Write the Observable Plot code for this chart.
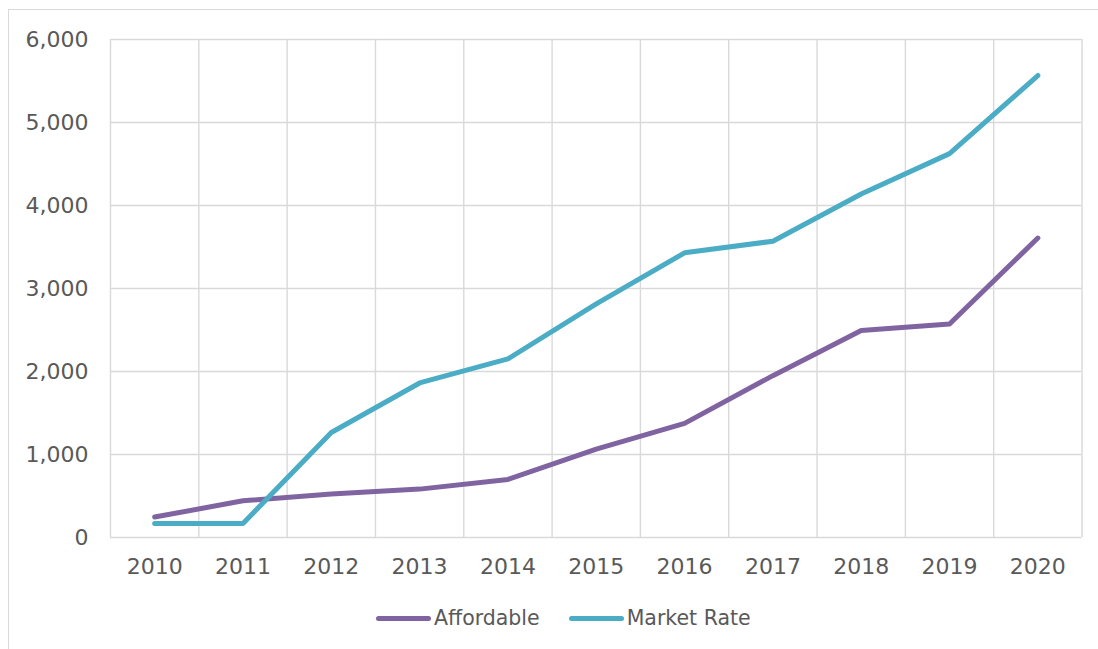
<!DOCTYPE html>
<html>
<head>
<meta charset="utf-8">
<script src="https://cdn.jsdelivr.net/npm/d3@7"></script>
<script src="https://cdn.jsdelivr.net/npm/@observablehq/plot@0.6"></script>
<style>
  html, body { margin: 0; padding: 0; background: #fff; overflow: hidden; }
  body { width: 1098px; height: 649px; position: relative; font-family: "DejaVu Sans", sans-serif; }
  #frame { position: absolute; left: 8px; top: 9px; width: 1200px; height: 1000px; border: 1.5px solid #d9d9d9; box-sizing: border-box; }
  #chart { position: absolute; left: 0; top: 0; }
  #legend { position: absolute; left: 376px; top: 606px; display: flex; align-items: center; font-size: 20.5px; color: #595959; }
  .item { display: flex; align-items: center; margin-right: 29px; }
  .sw { width: 55px; height: 5px; border-radius: 3px; margin-right: 3px; }
</style>
</head>
<body>
<div id="frame"></div>
<div id="chart"></div>
<div id="legend"></div>
<script>
const years = [2010, 2011, 2012, 2013, 2014, 2015, 2016, 2017, 2018, 2019, 2020];
const affordable = [246, 442, 523, 583, 700, 1065, 1375, 1950, 2494, 2572, 3608];
const marketRate = [168, 168, 1265, 1862, 2152, 2815, 3430, 3570, 4138, 4625, 5566];
const yTicks = [0, 1000, 2000, 3000, 4000, 5000, 6000];
const seriesNames = ["Affordable", "Market Rate"];
const seriesColors = ["#8064A2", "#4BACC6"];

const rows = [];
years.forEach((y, i) => {
  rows.push({year: y, value: affordable[i], series: seriesNames[0]});
  rows.push({year: y, value: marketRate[i], series: seriesNames[1]});
});
const boundaries = years.map(y => y - 0.5).concat([years[years.length - 1] + 0.5]);

const chart = Plot.plot({
  width: 1098,
  height: 590,
  marginLeft: 110,
  marginRight: 16.5,
  marginTop: 39,
  marginBottom: 53,
  style: {fontFamily: "DejaVu Sans, sans-serif", fontSize: "22px", color: "#595959", background: "transparent"},
  x: {domain: [years[0] - 0.5, years[years.length - 1] + 0.5], label: null},
  y: {domain: [0, 6000], label: null},
  color: {domain: seriesNames, range: seriesColors},
  marks: [
    Plot.ruleY(yTicks, {stroke: "#d9d9d9", strokeWidth: 1.4}),
    Plot.ruleX(boundaries, {stroke: "#d9d9d9", strokeWidth: 1.4}),
    Plot.axisY({ticks: yTicks, tickFormat: d3.format(","), tickSize: 0, tickPadding: 22, label: null, fill: "#595959", fontSize: 22}),
    Plot.axisX({ticks: years, tickFormat: d => String(d), tickSize: 0, tickPadding: 21, label: null, fill: "#595959", fontSize: 22}),
    Plot.line(rows, {x: "year", y: "value", z: "series", stroke: "series", strokeWidth: 5, strokeLinecap: "round", strokeLinejoin: "round"})
  ]
});
document.getElementById("chart").appendChild(chart);

const legend = document.getElementById("legend");
seriesNames.forEach((name, i) => {
  const item = document.createElement("div");
  item.className = "item";
  const sw = document.createElement("div");
  sw.className = "sw";
  sw.style.background = seriesColors[i];
  const label = document.createElement("span");
  label.textContent = name;
  item.appendChild(sw);
  item.appendChild(label);
  legend.appendChild(item);
});
</script>
</body>
</html>
